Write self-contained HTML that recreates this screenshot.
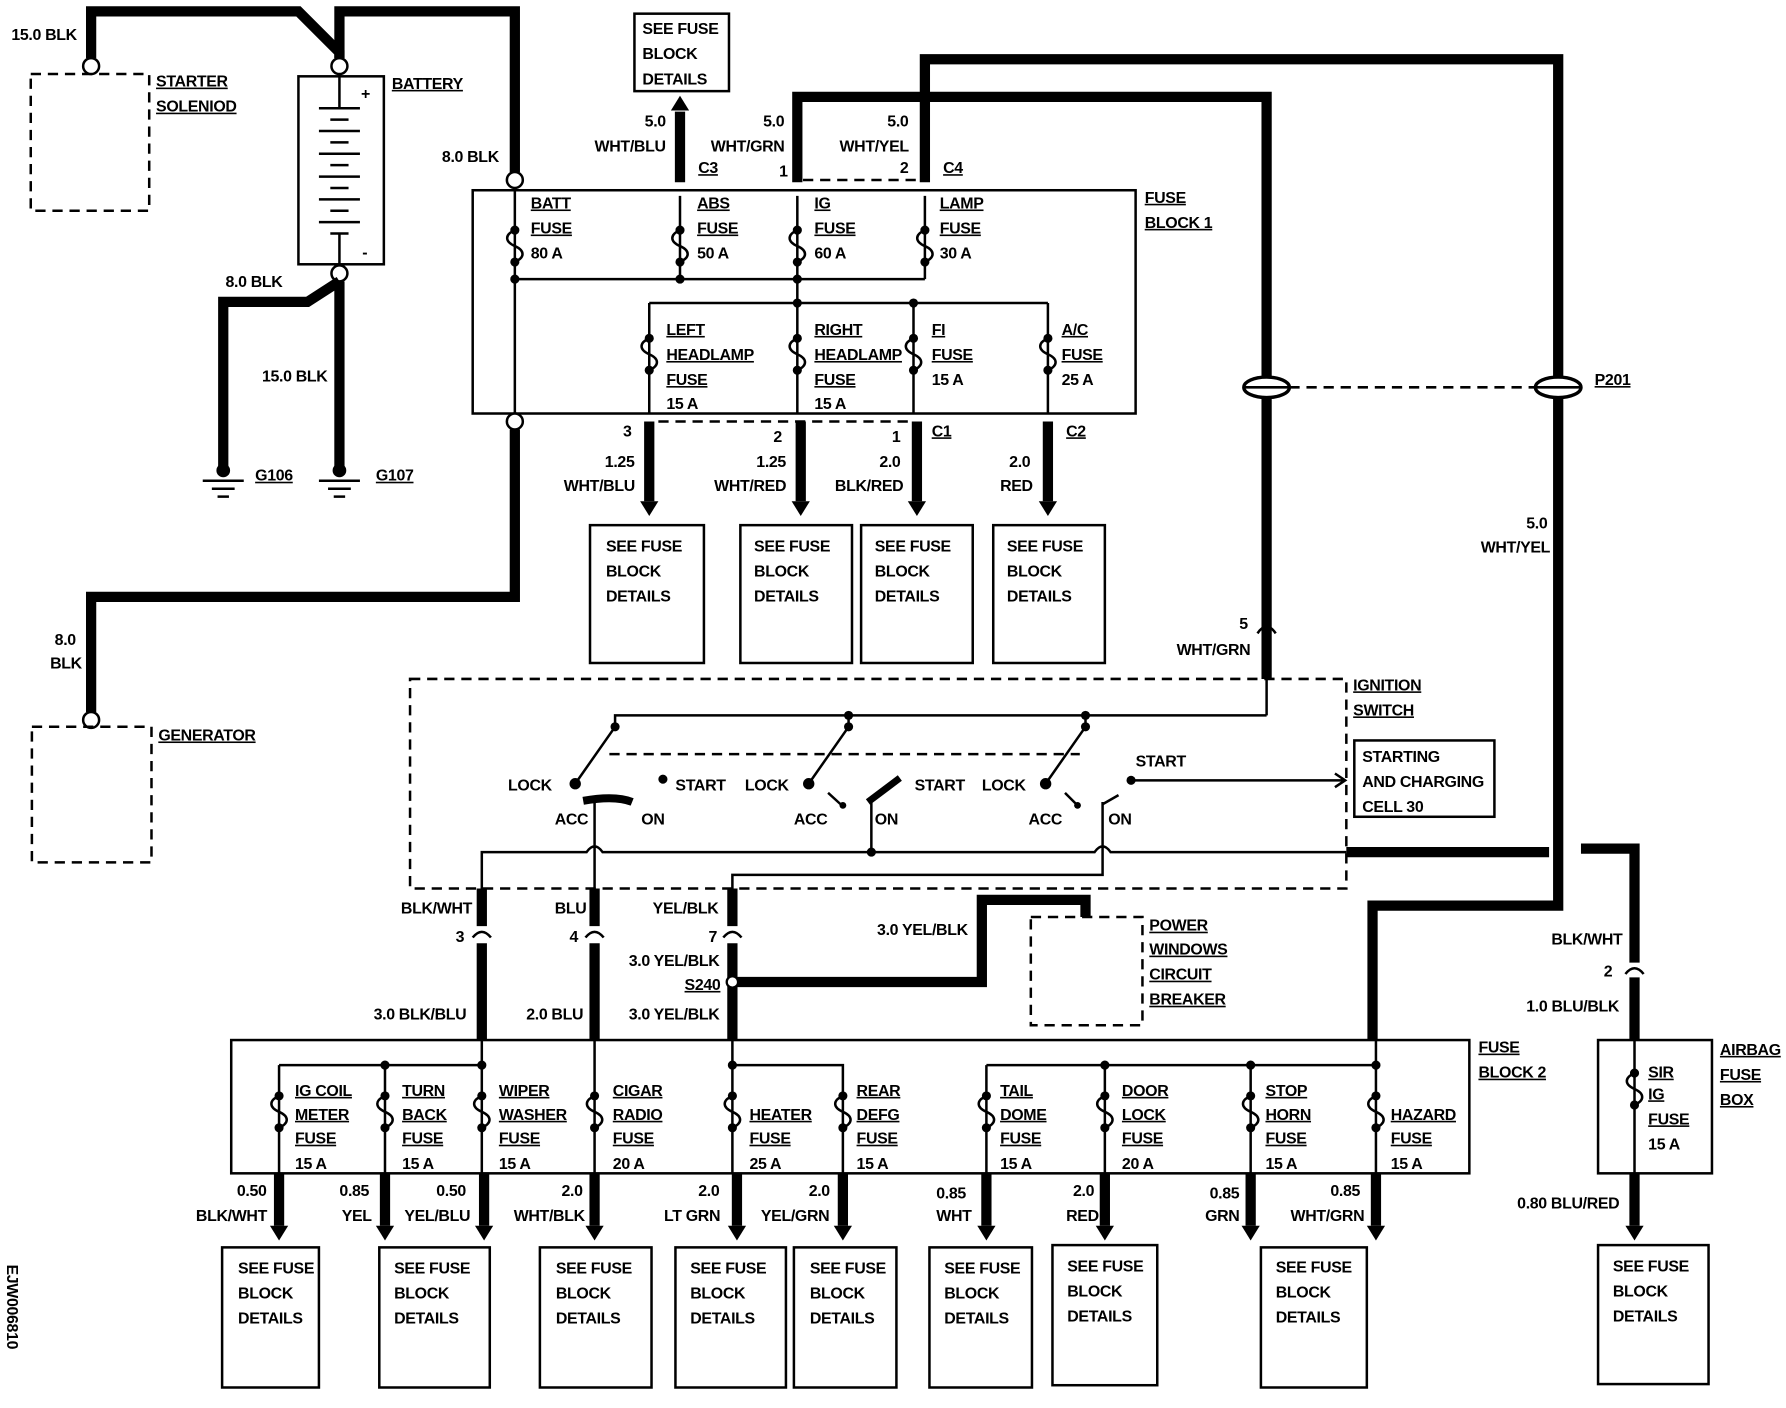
<!DOCTYPE html>
<html><head><meta charset="utf-8"><style>
html,body{margin:0;padding:0;background:#fff;}
svg{display:block}
text{font-family:"Liberation Sans",sans-serif;font-weight:bold;font-size:14px;letter-spacing:-0.3px;fill:#000;}
.u{text-decoration:underline;}
.t{stroke:#000;stroke-width:9;fill:none;}
.n{stroke:#000;stroke-width:2.2;fill:none;}
.d{stroke:#000;stroke-width:2.2;fill:none;stroke-dasharray:9,6;}
</style></head><body>
<svg width="1786" height="1408" viewBox="0 0 1568 1236" preserveAspectRatio="none" xmlns="http://www.w3.org/2000/svg">
<defs>
<g id="fz"><path d="M0,0 C-9,4 -9,10 0,14 C9,18 9,24 0,28" stroke="#000" stroke-width="2.2" fill="none"/><circle cx="0" cy="0" r="4"/><circle cx="0" cy="28" r="4"/></g>
<polygon id="ah" points="-8,-13 8,-13 0,0"/>
</defs>
<path class="t" d="M80,51 V10 H262 L298,46 V51"/>
<path class="t" d="M298,51 V10 H452 V151"/>
<text x="10" y="35">15.0 BLK</text>
<rect x="27" y="65" width="104" height="120" class="d"/>
<circle cx="80" cy="58" r="7" fill="#fff" stroke="#000" stroke-width="2.2"/>
<text x="137" y="76" class="u">STARTER</text><text x="137" y="98" class="u">SOLENIOD</text>
<rect x="262" y="67" width="75" height="165" class="n"/>
<path class="n" d="M298,65 V95 M280,95 H316 M290,105 H306 M280,115 H316 M290,125 H306 M280,135 H316 M290,145 H306 M280,155 H316 M290,165 H306 M280,175 H316 M290,185 H306 M280,195 H316 M290,205 H306 M298,205 V233"/>
<text x="317" y="87">+</text><text x="318" y="226">-</text>
<circle cx="298" cy="58" r="7" fill="#fff" stroke="#000" stroke-width="2.2"/>
<circle cx="298" cy="240" r="7" fill="#fff" stroke="#000" stroke-width="2.2"/>
<text x="344" y="78" class="u">BATTERY</text>
<path class="t" d="M298,247 L270,265 H196 V410 M298,247 V410"/>
<text x="198" y="252">8.0 BLK</text><text x="230" y="335">15.0 BLK</text>
<circle cx="196" cy="413" r="6"/><path class="n" d="M178,422 H214 M186,429 H206 M191,436 H201"/>
<circle cx="298" cy="413" r="6"/><path class="n" d="M280,422 H316 M288,429 H308 M293,436 H303"/>
<text x="224" y="422" class="u">G106</text><text x="330" y="422" class="u">G107</text>
<text x="388" y="142">8.0 BLK</text>
<rect x="415" y="167" width="582" height="196" class="n"/>
<circle cx="452" cy="158" r="7" fill="#fff" stroke="#000" stroke-width="2.2"/>
<circle cx="452" cy="370" r="7" fill="#fff" stroke="#000" stroke-width="2.2"/>
<path class="n" d="M452,165 V363 M452,245 H812 M597,172 V245 M700,172 V245 M812,172 V245 M700,245 V266 M570,266 H920 M570,266 V363 M700,266 V363 M802,266 V363 M920,266 V363"/>
<use href="#fz" x="452" y="202"/><use href="#fz" x="597" y="202"/><use href="#fz" x="700" y="202"/><use href="#fz" x="812" y="202"/>
<use href="#fz" x="570" y="297"/><use href="#fz" x="700" y="297"/><use href="#fz" x="802" y="297"/><use href="#fz" x="920" y="297"/>
<circle cx="452" cy="245" r="4"/><circle cx="597" cy="245" r="4"/><circle cx="700" cy="245" r="4"/><circle cx="700" cy="266" r="4"/><circle cx="802" cy="266" r="4"/>
<text x="466" y="183" class="u">BATT</text><text x="466" y="205" class="u">FUSE</text><text x="466" y="227">80 A</text>
<text x="612" y="183" class="u">ABS</text><text x="612" y="205" class="u">FUSE</text><text x="612" y="227">50 A</text>
<text x="715" y="183" class="u">IG</text><text x="715" y="205" class="u">FUSE</text><text x="715" y="227">60 A</text>
<text x="825" y="183" class="u">LAMP</text><text x="825" y="205" class="u">FUSE</text><text x="825" y="227">30 A</text>
<text x="1005" y="178" class="u">FUSE</text><text x="1005" y="200" class="u">BLOCK 1</text>
<text x="585" y="294" class="u">LEFT</text><text x="585" y="316" class="u">HEADLAMP</text><text x="585" y="338" class="u">FUSE</text><text x="585" y="359">15 A</text>
<text x="715" y="294" class="u">RIGHT</text><text x="715" y="316" class="u">HEADLAMP</text><text x="715" y="338" class="u">FUSE</text><text x="715" y="359">15 A</text>
<text x="818" y="294" class="u">FI</text><text x="818" y="316" class="u">FUSE</text><text x="818" y="338">15 A</text>
<text x="932" y="294" class="u">A/C</text><text x="932" y="316" class="u">FUSE</text><text x="932" y="338">25 A</text>
<path class="t" d="M597,160 V98"/><use href="#ah" x="597" y="84" transform="rotate(180 597 84)"/>
<rect x="557" y="12" width="83" height="68" class="n"/>
<text x="564" y="30">SEE FUSE</text><text x="564" y="52">BLOCK</text><text x="564" y="74">DETAILS</text>
<path class="t" d="M700,160 V85 H1112 V596"/>
<path class="n" d="M1112,596 V628"/>
<path class="t" d="M812,160 V52 H1368 V795 H1205 V913"/>
<path class="d" d="M705,158 H805"/>
<text x="684" y="155">1</text><text x="790" y="152">2</text>
<text x="613" y="152" class="u">C3</text><text x="828" y="152" class="u">C4</text>
<text x="566" y="111">5.0</text><text x="522" y="133">WHT/BLU</text>
<text x="670" y="111">5.0</text><text x="624" y="133">WHT/GRN</text>
<text x="779" y="111">5.0</text><text x="737" y="133">WHT/YEL</text>
<ellipse cx="1112" cy="340" rx="20" ry="9" fill="#fff" stroke="#000" stroke-width="3"/>
<ellipse cx="1368" cy="340" rx="20" ry="9" fill="#fff" stroke="#000" stroke-width="3"/>
<path class="n" d="M1092,340 H1132 M1348,340 H1388"/>
<path class="d" d="M1132,340 H1348"/>
<text x="1400" y="338" class="u">P201</text>
<text x="1340" y="464">5.0</text><text x="1300" y="485">WHT/YEL</text>
<text x="1088" y="552">5</text><text x="1033" y="575">WHT/GRN</text>
<path class="n" d="M1104,556 Q1112,544 1120,556"/>
<path class="d" d="M578,370 H800"/>
<path class="t" d="M570,370 V440 M703,370 V440 M805,370 V440 M920,370 V440"/>
<use href="#ah" x="570" y="453"/><use href="#ah" x="703" y="453"/><use href="#ah" x="805" y="453"/><use href="#ah" x="920" y="453"/>
<text x="547" y="383">3</text><text x="531" y="410">1.25</text><text x="495" y="431">WHT/BLU</text>
<text x="679" y="388">2</text><text x="664" y="410">1.25</text><text x="627" y="431">WHT/RED</text>
<text x="783" y="388">1</text><text x="772" y="410">2.0</text><text x="733" y="431">BLK/RED</text>
<text x="818" y="383" class="u">C1</text><text x="936" y="383" class="u">C2</text>
<text x="886" y="410">2.0</text><text x="878" y="431">RED</text>
<g>
<rect x="518" y="461" width="100" height="121" class="n"/><text x="532" y="484">SEE FUSE</text><text x="532" y="506">BLOCK</text><text x="532" y="528">DETAILS</text>
<rect x="650" y="461" width="98" height="121" class="n"/><text x="662" y="484">SEE FUSE</text><text x="662" y="506">BLOCK</text><text x="662" y="528">DETAILS</text>
<rect x="756" y="461" width="98" height="121" class="n"/><text x="768" y="484">SEE FUSE</text><text x="768" y="506">BLOCK</text><text x="768" y="528">DETAILS</text>
<rect x="872" y="461" width="98" height="121" class="n"/><text x="884" y="484">SEE FUSE</text><text x="884" y="506">BLOCK</text><text x="884" y="528">DETAILS</text>
</g>
<path class="t" d="M452,377 V524 H80 V625"/>
<circle cx="80" cy="632" r="7" fill="#fff" stroke="#000" stroke-width="2.2"/>
<rect x="28" y="638" width="105" height="119" class="d"/>
<text x="139" y="650" class="u">GENERATOR</text>
<text x="48" y="566">8.0</text><text x="44" y="587">BLK</text>
<rect x="360" y="596" width="822" height="184" class="d"/>
<text x="1188" y="606" class="u">IGNITION</text><text x="1188" y="628" class="u">SWITCH</text>
<rect x="1189" y="650" width="123" height="67" class="n"/>
<text x="1196" y="669">STARTING</text><text x="1196" y="691">AND CHARGING</text><text x="1196" y="713">CELL 30</text>
<path class="n" d="M540,638 V628 H1112 M745,628 V638 M953,628 V638"/>
<circle cx="745" cy="628" r="4"/><circle cx="953" cy="628" r="4"/>
<path class="n" d="M540,638 L505,688 M745,638 L710,688 M953,638 L918,688"/>
<circle cx="540" cy="638" r="4"/><circle cx="745" cy="638" r="4"/><circle cx="953" cy="638" r="4"/>
<circle cx="505" cy="688" r="5"/><circle cx="710" cy="688" r="5"/><circle cx="918" cy="688" r="5"/>
<path class="d" d="M535,662 H948"/>
<circle cx="582" cy="684" r="4"/><circle cx="993" cy="685" r="4"/>
<path class="n" d="M993,685 H1180 M1172,679 L1181,685 L1172,691"/>
<path d="M512,703 Q540,698 555,704" stroke="#000" stroke-width="7" fill="none"/>
<path d="M762,704 L790,683" stroke="#000" stroke-width="6" fill="none"/>
<path class="n" d="M727,696 L738,706 M935,696 L945,706 M968,706 L982,698"/>
<circle cx="740" cy="707" r="3"/><circle cx="946" cy="707" r="3"/>
<text x="446" y="694">LOCK</text><text x="593" y="694">START</text><text x="487" y="724">ACC</text><text x="563" y="724">ON</text>
<text x="654" y="694">LOCK</text><text x="803" y="694">START</text><text x="697" y="724">ACC</text><text x="768" y="724">ON</text>
<text x="862" y="694">LOCK</text><text x="997" y="673">START</text><text x="903" y="724">ACC</text><text x="973" y="724">ON</text>
<path class="n" d="M423,780 V748 H515 Q522,738 529,748 H961 Q968,738 975,748 H1182 M522,704 V780 M765,704 V748 M968,704 V768 H643 V780"/>
<circle cx="765" cy="748" r="4"/>
<path class="t" d="M1182,748 H1360 M1388,745 H1435 V845 M1435,858 V913"/>
<path class="t" d="M423,780 V813 M423,828 V913 M522,780 V813 M522,828 V913 M643,780 V813 M643,828 V913"/>
<path class="n" d="M415,823 Q423,813 431,823 M514,823 Q522,813 530,823 M635,823 Q643,813 651,823 M1427,855 Q1435,845 1443,855"/>
<path class="t" d="M643,862 H862 V790 H953 V805"/>
<circle cx="643" cy="862" r="5" fill="#fff" stroke="#000" stroke-width="2"/>
<rect x="905" y="805" width="98" height="95" class="d"/>
<text x="1009" y="817" class="u">POWER</text><text x="1009" y="838" class="u">WINDOWS</text><text x="1009" y="860" class="u">CIRCUIT</text><text x="1009" y="882" class="u">BREAKER</text>
<text x="352" y="802">BLK/WHT</text><text x="487" y="802">BLU</text><text x="573" y="802">YEL/BLK</text>
<text x="400" y="827">3</text><text x="500" y="827">4</text><text x="622" y="827">7</text>
<text x="552" y="848">3.0 YEL/BLK</text><text x="601" y="869" class="u">S240</text>
<text x="328" y="895">3.0 BLK/BLU</text><text x="462" y="895">2.0 BLU</text><text x="552" y="895">3.0 YEL/BLK</text>
<text x="770" y="821">3.0 YEL/BLK</text>
<text x="1362" y="829">BLK/WHT</text><text x="1408" y="857">2</text><text x="1340" y="888">1.0 BLU/BLK</text>
<rect x="203" y="913" width="1087" height="117" class="n"/>
<text x="1298" y="924" class="u">FUSE</text><text x="1298" y="946" class="u">BLOCK 2</text>
<path class="n" d="M245,935 H423 M423,913 V1030 M245,935 V1030 M338,935 V1030 M522,913 V1030 M643,913 V1030 M643,935 H740 V1030 M866,935 H1208 M866,935 V1030 M970,935 V1030 M1098,935 V1030 M1208,913 V1030"/>
<circle cx="338" cy="935" r="4"/><circle cx="423" cy="935" r="4"/><circle cx="643" cy="935" r="4"/><circle cx="970" cy="935" r="4"/><circle cx="1098" cy="935" r="4"/><circle cx="1208" cy="935" r="4"/>
<use href="#fz" x="245" y="962"/><use href="#fz" x="338" y="962"/><use href="#fz" x="423" y="962"/><use href="#fz" x="522" y="962"/><use href="#fz" x="643" y="962"/><use href="#fz" x="740" y="962"/><use href="#fz" x="866" y="962"/><use href="#fz" x="970" y="962"/><use href="#fz" x="1098" y="962"/><use href="#fz" x="1208" y="962"/>
<text x="259" y="962" class="u">IG  COIL</text><text x="259" y="983" class="u">METER</text><text x="259" y="1004" class="u">FUSE</text><text x="259" y="1026">15 A</text>
<text x="353" y="962" class="u">TURN</text><text x="353" y="983" class="u">BACK</text><text x="353" y="1004" class="u">FUSE</text><text x="353" y="1026">15 A</text>
<text x="438" y="962" class="u">WIPER</text><text x="438" y="983" class="u">WASHER</text><text x="438" y="1004" class="u">FUSE</text><text x="438" y="1026">15 A</text>
<text x="538" y="962" class="u">CIGAR</text><text x="538" y="983" class="u">RADIO</text><text x="538" y="1004" class="u">FUSE</text><text x="538" y="1026">20 A</text>
<text x="658" y="983" class="u">HEATER</text><text x="658" y="1004" class="u">FUSE</text><text x="658" y="1026">25 A</text>
<text x="752" y="962" class="u">REAR</text><text x="752" y="983" class="u">DEFG</text><text x="752" y="1004" class="u">FUSE</text><text x="752" y="1026">15 A</text>
<text x="878" y="962" class="u">TAIL</text><text x="878" y="983" class="u">DOME</text><text x="878" y="1004" class="u">FUSE</text><text x="878" y="1026">15 A</text>
<text x="985" y="962" class="u">DOOR</text><text x="985" y="983" class="u">LOCK</text><text x="985" y="1004" class="u">FUSE</text><text x="985" y="1026">20 A</text>
<text x="1111" y="962" class="u">STOP</text><text x="1111" y="983" class="u">HORN</text><text x="1111" y="1004" class="u">FUSE</text><text x="1111" y="1026">15 A</text>
<text x="1221" y="983" class="u">HAZARD</text><text x="1221" y="1004" class="u">FUSE</text><text x="1221" y="1026">15 A</text>
<path class="t" d="M245,1030 V1076 M338,1030 V1076 M425,1030 V1076 M522,1030 V1076 M647,1030 V1076 M740,1030 V1076 M866,1030 V1076 M970,1030 V1076 M1098,1030 V1076 M1208,1030 V1076 M1435,1030 V1076"/>
<use href="#ah" x="245" y="1089"/><use href="#ah" x="338" y="1089"/><use href="#ah" x="425" y="1089"/><use href="#ah" x="522" y="1089"/><use href="#ah" x="647" y="1089"/><use href="#ah" x="740" y="1089"/><use href="#ah" x="866" y="1089"/><use href="#ah" x="970" y="1089"/><use href="#ah" x="1098" y="1089"/><use href="#ah" x="1208" y="1089"/><use href="#ah" x="1435" y="1089"/>
<text x="208" y="1050">0.50</text><text x="172" y="1072">BLK/WHT</text>
<text x="298" y="1050">0.85</text><text x="300" y="1072">YEL</text>
<text x="383" y="1050">0.50</text><text x="355" y="1072">YEL/BLU</text>
<text x="493" y="1050">2.0</text><text x="451" y="1072">WHT/BLK</text>
<text x="613" y="1050">2.0</text><text x="583" y="1072">LT GRN</text>
<text x="710" y="1050">2.0</text><text x="668" y="1072">YEL/GRN</text>
<text x="822" y="1052">0.85</text><text x="822" y="1072">WHT</text>
<text x="942" y="1050">2.0</text><text x="936" y="1072">RED</text>
<text x="1062" y="1052">0.85</text><text x="1058" y="1072">GRN</text>
<text x="1168" y="1050">0.85</text><text x="1133" y="1072">WHT/GRN</text>
<rect x="1403" y="913" width="100" height="117" class="n"/>
<path class="n" d="M1435,913 V1030"/><use href="#fz" x="1435" y="942"/>
<text x="1447" y="946" class="u">SIR</text><text x="1447" y="965" class="u">IG</text><text x="1447" y="987" class="u">FUSE</text><text x="1447" y="1009">15 A</text>
<text x="1510" y="926" class="u">AIRBAG</text><text x="1510" y="948" class="u">FUSE</text><text x="1510" y="970" class="u">BOX</text>
<text x="1332" y="1061">0.80 BLU/RED</text>
<g>
<rect x="195" y="1095" width="85" height="123" class="n"/><text x="209" y="1118">SEE FUSE</text><text x="209" y="1140">BLOCK</text><text x="209" y="1162">DETAILS</text>
<rect x="333" y="1095" width="97" height="123" class="n"/><text x="346" y="1118">SEE FUSE</text><text x="346" y="1140">BLOCK</text><text x="346" y="1162">DETAILS</text>
<rect x="474" y="1095" width="98" height="123" class="n"/><text x="488" y="1118">SEE FUSE</text><text x="488" y="1140">BLOCK</text><text x="488" y="1162">DETAILS</text>
<rect x="593" y="1095" width="97" height="123" class="n"/><text x="606" y="1118">SEE FUSE</text><text x="606" y="1140">BLOCK</text><text x="606" y="1162">DETAILS</text>
<rect x="697" y="1095" width="90" height="123" class="n"/><text x="711" y="1118">SEE FUSE</text><text x="711" y="1140">BLOCK</text><text x="711" y="1162">DETAILS</text>
<rect x="816" y="1095" width="90" height="123" class="n"/><text x="829" y="1118">SEE FUSE</text><text x="829" y="1140">BLOCK</text><text x="829" y="1162">DETAILS</text>
<rect x="924" y="1093" width="92" height="123" class="n"/><text x="937" y="1116">SEE FUSE</text><text x="937" y="1138">BLOCK</text><text x="937" y="1160">DETAILS</text>
<rect x="1107" y="1095" width="93" height="123" class="n"/><text x="1120" y="1117">SEE FUSE</text><text x="1120" y="1139">BLOCK</text><text x="1120" y="1161">DETAILS</text>
<rect x="1403" y="1093" width="97" height="122" class="n"/><text x="1416" y="1116">SEE FUSE</text><text x="1416" y="1138">BLOCK</text><text x="1416" y="1160">DETAILS</text>
</g>
<text x="0" y="0" transform="translate(6,1110) rotate(90)">EJW006810</text>
</svg>
</body></html>
